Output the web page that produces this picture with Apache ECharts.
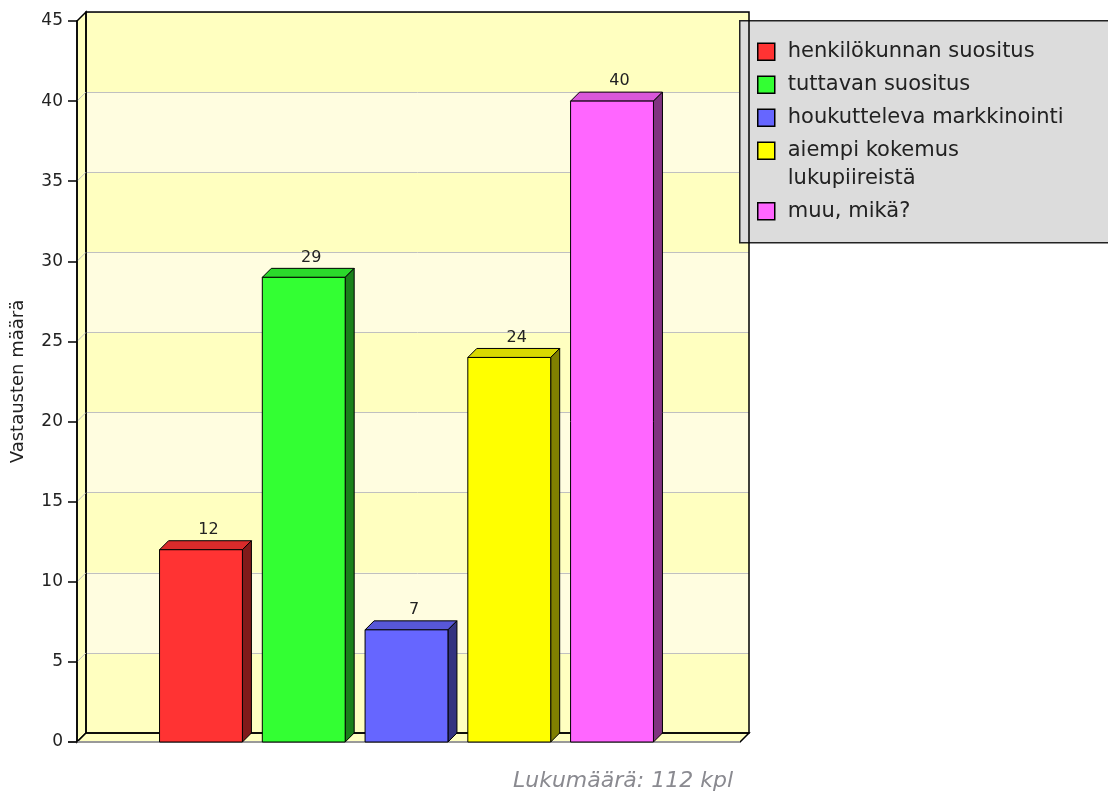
<!DOCTYPE html>
<html>
<head>
<meta charset="utf-8">
<title>Vastausten määrä</title>
<script src="https://cdn.jsdelivr.net/npm/echarts@6/dist/echarts.min.js"></script>
<style>
  html, body { margin: 0; padding: 0; background: #fff; }
  #chart { width: 1108px; height: 796px; }
</style>
</head>
<body>
<div id="chart"></div>
<script>
// values
const seriesNames = [
  'henkilökunnan suositus',
  'tuttavan suositus',
  'houkutteleva markkinointi',
  'aiempi kokemus lukupiireistä',
  'muu, mikä?'
]
const counts = [12, 29, 7, 24, 40]
const barColors = ['#ff3333', '#33ff33', '#6666ff', '#ffff00', '#ff66ff']
const yTicks = [0, 5, 10, 15, 20, 25, 30, 35, 40, 45]
const categories = ['Lukumäärä']

const FONT = '"DejaVu Sans", Verdana, sans-serif'
const DEPTH_X = 9
const DEPTH_Y = 9
const BAR_RATIO = 0.125   // bar width / band width
const STEP_RATIO = 0.155  // distance between bar centres / band width
const LEGEND_TEXT_WIDTH = 290
const LEGEND_LINE = 27.5
const LEGEND_GAP = 5.5
const LEGEND_TOP = 38
const ICON = 17
const WALL = '#ffffc0'

const total = counts.reduce((a, b) => a + b, 0)

function shade(hex, f) {
  const n = parseInt(hex.slice(1), 16)
  const c = [(n >> 16) & 255, (n >> 8) & 255, n & 255].map((v) => Math.round(v * f))
  return `rgb(${c.join(',')})`
}

const measureCtx = document.createElement('canvas').getContext('2d')
measureCtx.font = '21px ' + FONT
function lineCount(text) {
  return measureCtx.measureText(text).width > LEGEND_TEXT_WIDTH ? 2 : 1
}

// one legend per entry so a wrapped name keeps its square beside the first line
function buildLegends() {
  let y = LEGEND_TOP
  return seriesNames.map((name) => {
    const lines = lineCount(name)
    // taller, mostly empty icon box: text centres on it, square stays at the top
    const iconH = ICON + (lines - 1) * LEGEND_LINE
    const top = y
    y += lines * LEGEND_LINE + LEGEND_GAP
    return {
      orient: 'vertical',
      left: 757,
      top,
      padding: 0,
      itemWidth: ICON,
      itemHeight: iconH,
      icon: lines > 1 ? `path://M0,0L${ICON},0L${ICON},${ICON}L0,${ICON}Z M0,${iconH}` : 'rect',
      selectedMode: false,
      itemStyle: { borderColor: '#000', borderWidth: 1.5 },
      textStyle: {
        fontFamily: FONT,
        fontSize: 21,
        color: '#222',
        lineHeight: LEGEND_LINE,
        width: LEGEND_TEXT_WIDTH,
        overflow: 'break',
        padding: [0, 0, 0, 8]
      },
      data: [name]
    }
  })
}

// left wall, floor and back-wall outline of the pseudo 3D plot
function renderWalls(params, api) {
  const cs = params.coordSys
  const x0 = cs.x
  const x1 = cs.x + cs.width
  const y0 = cs.y
  const y1 = cs.y + cs.height
  const children = [
    {
      type: 'polygon',
      shape: { points: [[x0, y0], [x0 + DEPTH_X, y0 - DEPTH_Y], [x0 + DEPTH_X, y1 - DEPTH_Y], [x0, y1]] },
      style: { fill: WALL, stroke: '#000', lineWidth: 1.5 }
    },
    {
      type: 'polygon',
      shape: { points: [[x0, y1], [x0 + DEPTH_X, y1 - DEPTH_Y], [x1 + DEPTH_X, y1 - DEPTH_Y], [x1, y1]] },
      style: { fill: WALL, stroke: '#000', lineWidth: 1.5 }
    },
    {
      type: 'rect',
      shape: { x: x0 + DEPTH_X, y: y0 - DEPTH_Y, width: cs.width, height: cs.height },
      style: { fill: 'none', stroke: '#000', lineWidth: 1.5 }
    }
  ]
  yTicks.slice(1, -1).forEach((v) => {
    const y = api.coord([0, v])[1]
    children.push({
      type: 'line',
      shape: { x1: x0, y1: y, x2: x0 + DEPTH_X, y2: y - DEPTH_Y },
      style: { stroke: '#c0c0c0', lineWidth: 1 }
    })
  })
  children.push({
    type: 'line',
    shape: { x1: x0 - 9, y1: y1, x2: x1, y2: y1 },
    style: { stroke: '#999', lineWidth: 2 }
  })
  return { type: 'group', children }
}

function renderBar(params, api) {
  const slot = params.seriesIndex - 1
  const color = barColors[slot]
  const band = api.size([1, 0])[0]
  const w = band * BAR_RATIO
  const cat = api.value(0)
  const center = api.coord([cat, 0])[0] + (slot - (counts.length - 1) / 2) * band * STEP_RATIO - 2
  const top = api.coord([cat, api.value(1)])[1]
  const base = api.coord([cat, 0])[1]
  const l = center - w / 2
  const r = center + w / 2
  return {
    type: 'group',
    children: [
      {
        type: 'polygon',
        shape: { points: [[l, top], [l + DEPTH_X, top - DEPTH_Y], [r + DEPTH_X, top - DEPTH_Y], [r, top]] },
        style: { fill: shade(color, 0.85), stroke: '#000', lineWidth: 1 }
      },
      {
        type: 'polygon',
        shape: { points: [[r, top], [r + DEPTH_X, top - DEPTH_Y], [r + DEPTH_X, base - DEPTH_Y], [r, base]] },
        style: { fill: shade(color, 0.5), stroke: '#000', lineWidth: 1 }
      },
      {
        type: 'rect',
        shape: { x: l, y: top, width: w, height: base - top },
        style: { fill: color, stroke: '#000', lineWidth: 1 }
      },
      {
        type: 'text',
        style: {
          text: String(api.value(1)),
          x: center + DEPTH_X / 2 + 3,
          y: top - DEPTH_Y - 3,
          align: 'center',
          verticalAlign: 'bottom',
          font: '16px ' + FONT,
          fill: '#222'
        }
      }
    ]
  }
}

const chart = echarts.init(document.getElementById('chart'))

chart.setOption({
  animation: false,
  title: {
    text: `Lukumäärä: ${total} kpl`,
    right: 375,
    top: 770,
    padding: 0,
    textStyle: { fontFamily: FONT, fontSize: 22, fontStyle: 'italic', fontWeight: 'normal', color: '#8a8a90' }
  },
  graphic: [
    {
      type: 'rect',
      left: 739,
      top: 20,
      silent: true,
      z: 1,
      shape: { width: 400, height: 222 },
      style: { fill: '#dcdcdc', stroke: '#222', lineWidth: 1.5 }
    }
  ],
  legend: buildLegends(),
  grid: [
    // back wall
    { left: 77 + DEPTH_X, top: 21 - DEPTH_Y, width: 663, height: 721 },
    // front plane
    { left: 77, top: 21, width: 663, height: 721 }
  ],
  xAxis: [
    { type: 'category', gridIndex: 0, data: categories, show: false },
    {
      type: 'category',
      gridIndex: 1,
      data: categories,
      axisLine: { show: false },
      axisTick: { show: false },
      axisLabel: { show: false }
    }
  ],
  yAxis: [
    {
      type: 'value',
      gridIndex: 0,
      min: yTicks[0],
      max: yTicks[yTicks.length - 1],
      interval: yTicks[1] - yTicks[0],
      axisLine: { show: false },
      axisTick: { show: false },
      axisLabel: { show: false },
      splitLine: { show: true, lineStyle: { color: '#c0c0c0', width: 1 } },
      splitArea: { show: true, areaStyle: { color: [WALL, '#fffde0'] } }
    },
    {
      type: 'value',
      gridIndex: 1,
      z: 3,
      min: yTicks[0],
      max: yTicks[yTicks.length - 1],
      interval: yTicks[1] - yTicks[0],
      name: 'Vastausten määrä',
      nameLocation: 'middle',
      nameGap: 50,
      nameTextStyle: { fontFamily: FONT, fontSize: 18, color: '#222' },
      axisLine: { show: true, lineStyle: { color: '#000', width: 1.5 } },
      axisTick: { show: true, length: 9, lineStyle: { color: '#000', width: 1.5 } },
      axisLabel: { fontFamily: FONT, fontSize: 17, color: '#222', margin: 14 },
      splitLine: { show: false }
    }
  ],
  series: [
    {
      type: 'custom',
      name: 'walls',
      xAxisIndex: 1,
      yAxisIndex: 1,
      silent: true,
      clip: false,
      z: 1,
      renderItem: renderWalls,
      data: [[0, 0]]
    },
    ...seriesNames.map((name, i) => ({
      type: 'custom',
      name,
      xAxisIndex: 1,
      yAxisIndex: 1,
      z: 2,
      clip: false,
      itemStyle: { color: barColors[i] },
      renderItem: renderBar,
      data: [[0, counts[i]]]
    }))
  ]
})

window.addEventListener('resize', () => chart.resize())
</script>
</body>
</html>
